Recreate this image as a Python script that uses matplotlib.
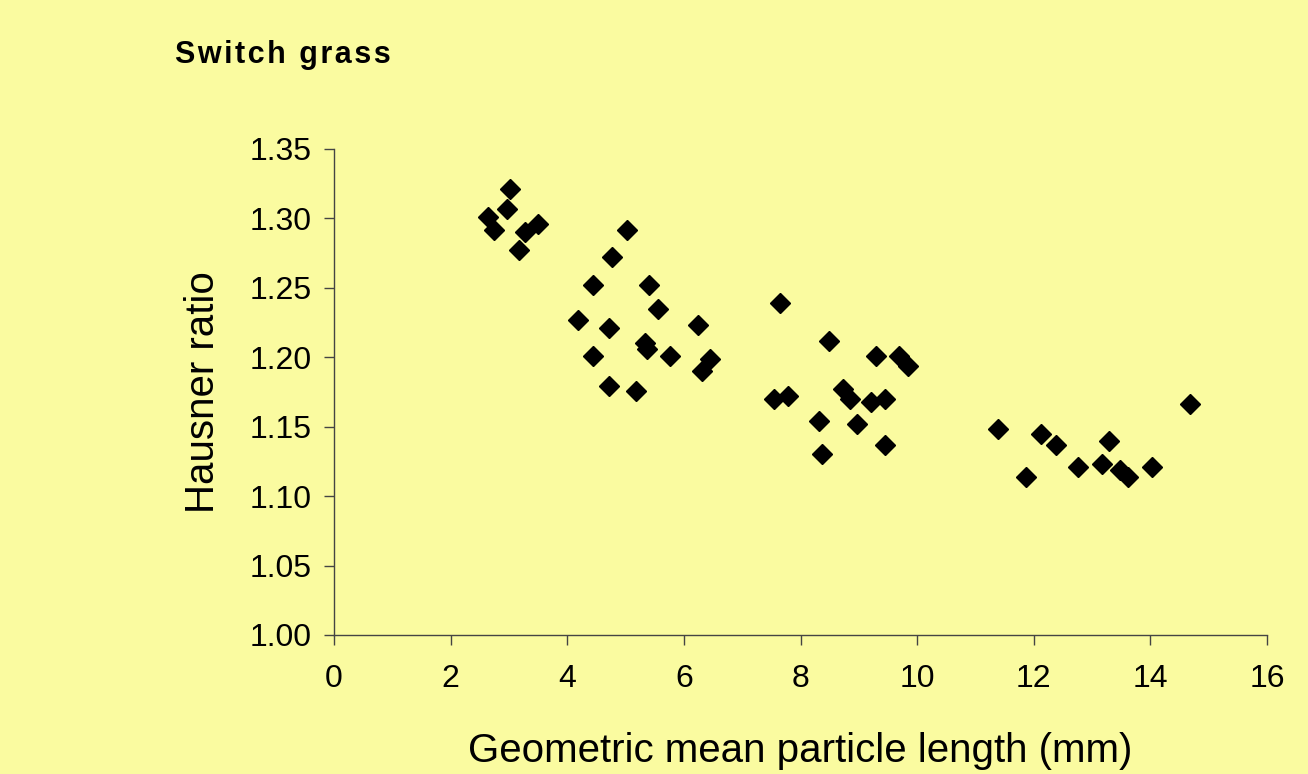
import matplotlib
matplotlib.use("Agg")
import matplotlib.pyplot as plt

# données
length_mm = [2.64, 2.74, 3.02, 2.97, 3.17, 3.28, 3.50,
             4.19, 4.44, 4.44, 4.77, 4.72, 4.72, 5.03, 5.18, 5.40, 5.33, 5.37,
             5.56, 5.76, 6.24, 6.31, 6.45,
             7.64, 7.55, 7.79, 8.48, 8.32, 8.37, 8.73, 8.85, 8.96, 9.30,
             9.21, 9.44, 9.44, 9.69, 9.85,
             11.39, 11.87, 12.13, 12.38, 12.76, 13.17, 13.29, 13.48, 13.62,
             14.03, 14.67]
hausner = [1.301, 1.292, 1.321, 1.307, 1.277, 1.290, 1.296,
           1.227, 1.252, 1.201, 1.272, 1.221, 1.179, 1.292, 1.176, 1.252, 1.210, 1.206,
           1.235, 1.201, 1.223, 1.190, 1.199,
           1.239, 1.170, 1.172, 1.212, 1.154, 1.130, 1.177, 1.170, 1.152, 1.201,
           1.168, 1.170, 1.137, 1.201, 1.194,
           1.148, 1.114, 1.145, 1.137, 1.121, 1.123, 1.140, 1.119, 1.114,
           1.121, 1.166]

xticks = list(range(0, 17, 2))
yticks = [1.00, 1.05, 1.10, 1.15, 1.20, 1.25, 1.30, 1.35]

bg = "#FAFBA0"
axis_col = "#444444"
plt.rcParams["font.family"] = ["Liberation Sans", "DejaVu Sans"]

fig = plt.figure(figsize=(13.08, 7.74), dpi=100, facecolor=bg)
ax = fig.add_axes([0.2554, 0.1796, 0.7133, 0.6279])
ax.set_facecolor(bg)

ax.plot(length_mm, hausner, linestyle="none", marker="D", markersize=10.5,
        color="black", clip_on=False)

ax.set_xlim(0, 16)
ax.set_ylim(1.0, 1.35)
ax.set_xticks(xticks)
ax.set_yticks(yticks)
ax.set_yticklabels(["%.2f" % v for v in yticks])

for s in ["top", "right"]:
    ax.spines[s].set_visible(False)
for s in ["left", "bottom"]:
    ax.spines[s].set_color(axis_col)
    ax.spines[s].set_linewidth(1.0)

ax.tick_params(axis="both", direction="out", length=7, width=1,
               color=axis_col, labelsize=23)
ax.tick_params(axis="y", pad=9)
ax.tick_params(axis="x", pad=14)

ax.set_xlabel("Geometric mean particle length (mm)", fontsize=29, labelpad=27)
ax.set_ylabel("Hausner ratio", fontsize=29, labelpad=20)

# titre avec un léger espacement des lettres, comme dans Excel
titre = "\u200a".join("Switch grass")
fig.text(0.134, 0.929, titre, fontsize=22, fontweight="bold",
         ha="left", va="center")

fig.savefig("out.png", dpi=100, facecolor=bg)
